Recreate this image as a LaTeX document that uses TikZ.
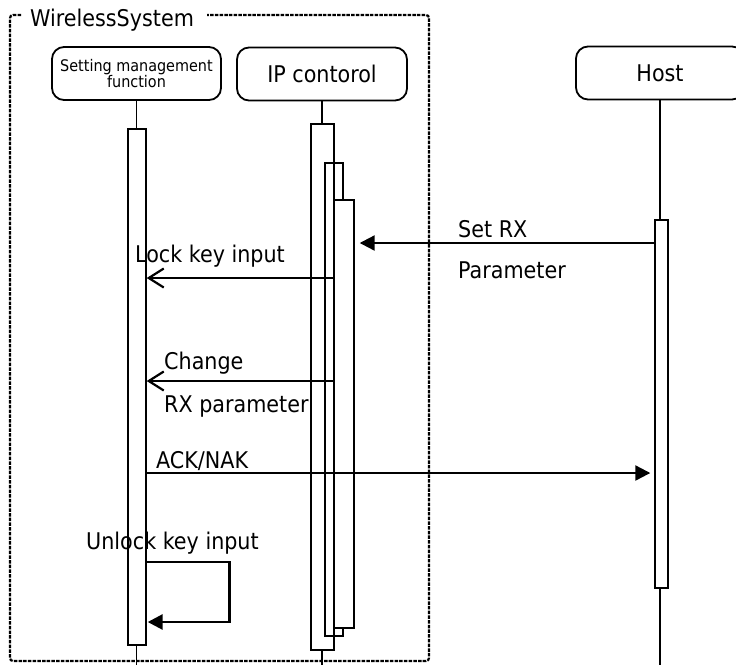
\documentclass[tikz,border=0pt]{standalone}
\usepackage{fontspec}
\setmainfont{DejaVu Sans Condensed}
\usetikzlibrary{arrows.meta,calc}
\begin{document}
\begin{tikzpicture}[x=1pt,y=-1pt,
  actor/.style={draw,line width=1.8pt,rounded corners=12pt,minimum height=53pt,inner sep=0pt,align=center,font=\fontsize{23}{26}\selectfont},
  lifeline/.style={line width=1.6pt},
  act/.style={draw,line width=1.4pt,fill=white,inner sep=0pt},
  actopen/.style={draw,line width=1.4pt,inner sep=0pt},
  msg/.style={line width=2.2pt},
  openhead/.style={-{Straight Barb[length=15pt,width=19pt,line width=2.2pt]}},
  fullhead/.style={-{Triangle[length=15pt,width=15pt]}},
  lbl/.style={anchor=base west,inner sep=0pt,font=\fontsize{23}{26}\selectfont},
  frame/.style={line width=2.2pt,dash pattern=on 3.5pt off 1.2pt,rounded corners=3pt}]
\clip (0,0) rectangle (736,665);
\useasboundingbox (0,0) rectangle (736,665);
% frame
\draw[frame] (21,15) -- (10,15) -- (10,661) -- (429,661) -- (429,15) -- (207,15);
\node[lbl] (ws) at (30,26) {WirelessSystem};
% actors
\node[actor,minimum width=169pt,font=\fontsize{16}{15.5}\selectfont] (smf) at (136.5,73.5) {Setting management\\function};
\node[actor,minimum width=170pt] (ip) at (322,74) {IP contorol};
\node[actor,minimum width=168pt] (host) at (660,73) {Host};
% lifelines
\draw[lifeline] (smf.south) -- (smf.south |- 0,665);
\draw[lifeline] (ip.south) -- (ip.south |- 0,665);
\draw[lifeline] (host.south) -- (host.south |- 0,665);
% activations
\node[act,minimum width=18pt,minimum height=516pt] (smfA) at (137,387) {};
\node[act,minimum width=23pt,minimum height=526pt] (ipA1) at (322.5,387) {};
\node[actopen,minimum width=18pt,minimum height=473pt] (ipA2) at (334,399.5) {};
\node[act,minimum width=20pt,minimum height=428pt] (ipA3) at (344,414) {};
\node[act,minimum width=13pt,minimum height=368pt] (hostA) at (661.5,404) {};
% messages
\draw[msg,fullhead] (hostA.west |- 0,243) -- ($(ipA3.east |- 0,243)+(5,0)$);
\node[lbl] (l1) at (458,237) {Set RX};
\node[lbl] (l1b) at (458,278) {Parameter};
\draw[msg,openhead] (ipA3.west |- 0,278) -- (smfA.east |- 0,278);
\node[lbl] (l2) at (135,262) {Lock key input};
\draw[msg,openhead] (ipA3.west |- 0,381) -- (smfA.east |- 0,381);
\node[lbl] (l3) at (164,369) {Change};
\node[lbl] (l3b) at (164,412) {RX parameter};
\draw[msg,fullhead,shorten >=4pt] (smfA.east |- 0,473) -- (hostA.west |- 0,473);
\node[lbl] (l4) at (156,468) {ACK/NAK};
\draw[line width=2.8pt,fullhead] (smfA.east |- 0,562) -- ($(smfA.east |- 0,562)+(83,0)$) -- ($(smfA.east |- 0,622)+(83,0)$) -- ($(smfA.east |- 0,622)+(1,0)$);
\node[lbl] (l5) at (86,549) {Unlock key input};
\end{tikzpicture}
\end{document}
